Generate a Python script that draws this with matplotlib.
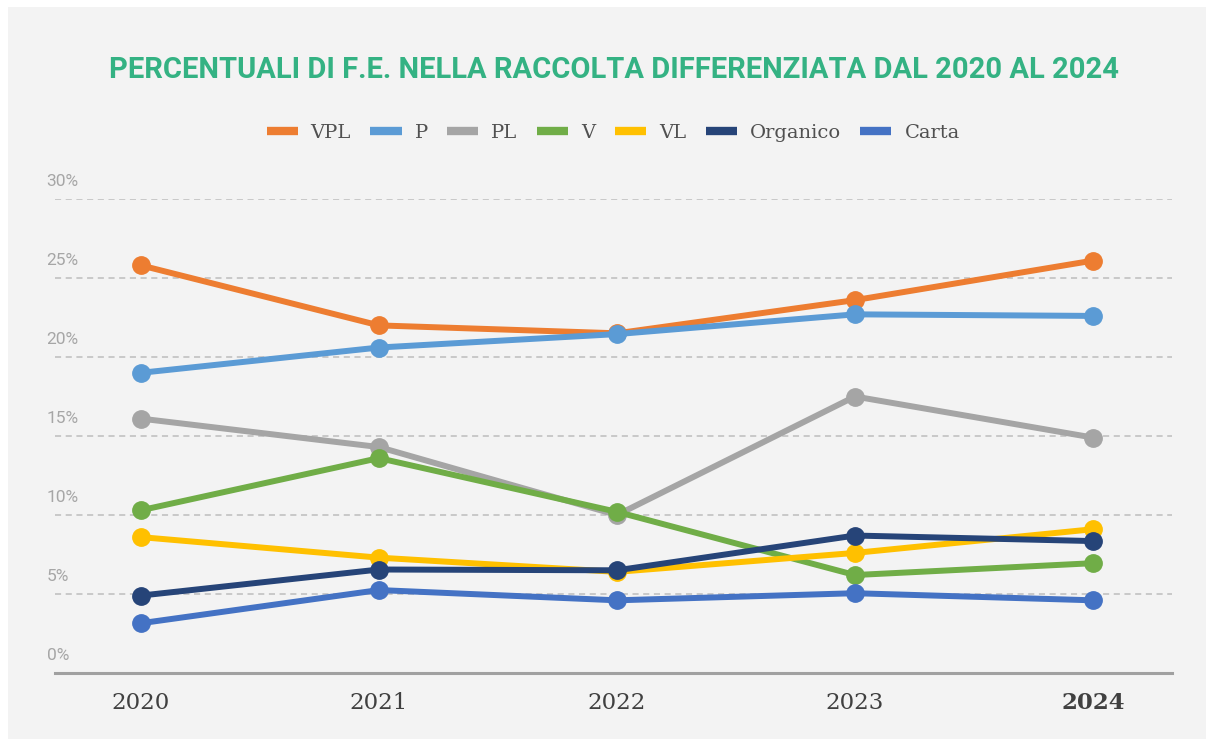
import matplotlib.pyplot as plt
from matplotlib.patches import Rectangle

years = ["2020", "2021", "2022", "2023", "2024"]
vpl = [25.8, 22.0, 21.5, 23.6, 26.1]
p = [19.0, 20.6, 21.45, 22.7, 22.6]
pl = [16.1, 14.3, 10.0, 17.5, 14.9]
v = [10.3, 13.6, 10.2, 6.2, 6.95]
vl = [8.6, 7.3, 6.4, 7.6, 9.1]
organico = [4.9, 6.55, 6.5, 8.7, 8.35]
carta = [3.15, 5.25, 4.6, 5.05, 4.6]

series = [("VPL", vpl, "#ed7d31"), ("P", p, "#5b9bd5"), ("PL", pl, "#a5a5a5"),
          ("V", v, "#70ad47"), ("VL", vl, "#ffc000"),
          ("Organico", organico, "#264478"), ("Carta", carta, "#4472c4")]
yticks = [0, 5, 10, 15, 20, 25, 30]

bg = "#f3f3f3"
fig = plt.figure(figsize=(12.14, 7.39), dpi=100, facecolor="white")
fig.patches.append(Rectangle((8 / 1214, 0), 1 - 16 / 1214, 1 - 7 / 739,
                             transform=fig.transFigure, facecolor=bg,
                             edgecolor="none", zorder=-5))
ax = fig.add_axes([55 / 1214, 1 - 673 / 739, (1172 - 55) / 1214, (673 - 199) / 739])
ax.patch.set_alpha(0)

x = list(range(len(years)))
for name, vals, col in series:
    ax.plot(x, vals, color=col, lw=4.3, marker="o", ms=12.5, label=name,
            solid_capstyle="round", clip_on=False)

ax.set_xlim(-0.361, 4.332)
ax.set_ylim(0, 30)
ax.set_yticks(yticks)
ax.set_yticklabels([])
for t in yticks[1:]:
    ax.axhline(t, color="#bdbdbd", lw=1.1, ls=(0, (4, 3)), zorder=0)
for t in yticks:
    ax.annotate(f"{t}%", xy=(0, t), xycoords=("axes fraction", "data"),
                xytext=(-6, 7), textcoords="offset points", ha="left", va="bottom",
                fontsize=12.5, color="#a6a6a6", family="Roboto")
ax.tick_params(axis="y", length=0)
ax.tick_params(axis="x", length=0, pad=14)
ax.set_xticks(x)
ax.set_xticklabels(years, fontsize=16.5, color="#404040", family="DejaVu Serif")
ax.get_xticklabels()[-1].set_fontweight("bold")
for s in ["top", "right", "left"]:
    ax.spines[s].set_visible(False)
ax.spines["bottom"].set_color("#a0a0a0")
ax.spines["bottom"].set_linewidth(2.2)

fig.text(0.506, 1 - 70 / 739, "PERCENTUALI DI F.E. NELLA RACCOLTA DIFFERENZIATA DAL 2020 AL 2024",
         ha="center", va="center", fontsize=21, color="#34b283", fontweight="bold",
         family=["Roboto", "DejaVu Sans"])

leg = fig.legend(loc="center", bbox_to_anchor=(0.505, 1 - 133 / 739), ncol=7,
                 frameon=False, handlelength=1.6, handletextpad=0.67, columnspacing=1.0,
                 prop={"family": "DejaVu Serif", "size": 14})
for h in leg.get_lines():
    h.set_marker("")
    h.set_linewidth(6)
    h.set_solid_capstyle("butt")
for t in leg.get_texts():
    t.set_color("#505050")

fig.savefig("out.png", dpi=100, facecolor="white")
